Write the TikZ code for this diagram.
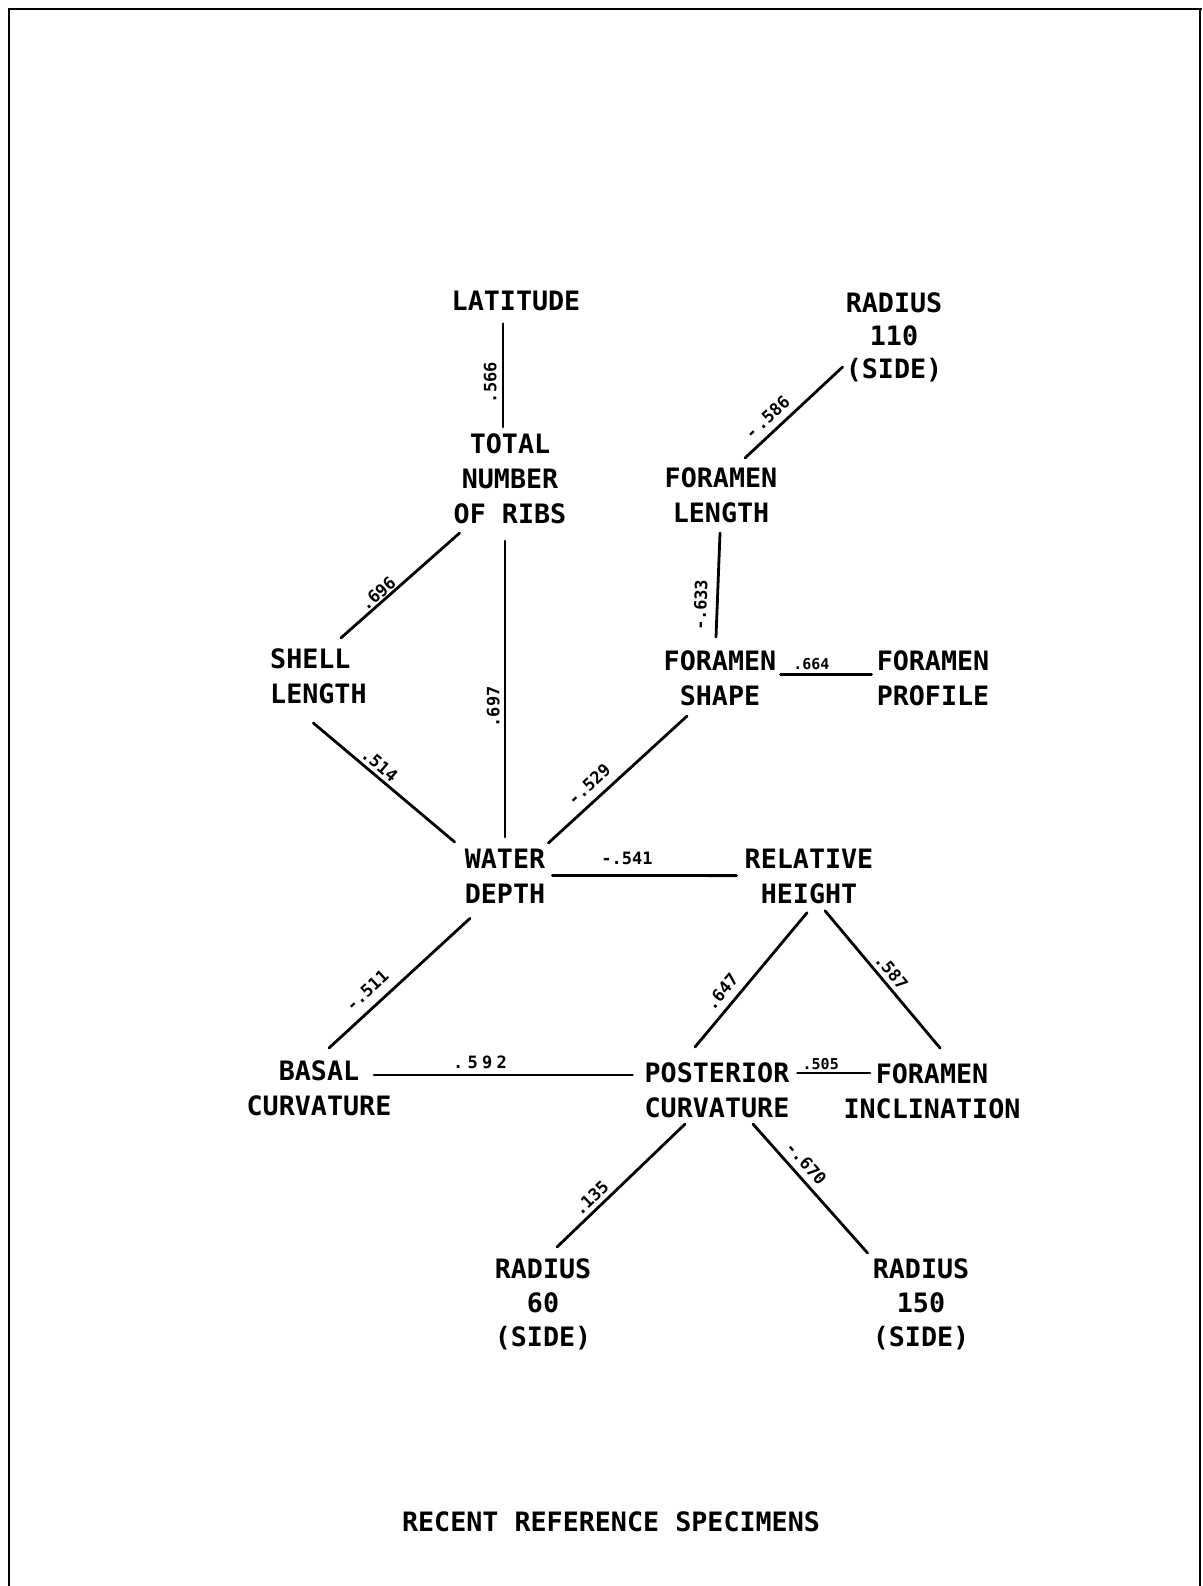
\documentclass[tikz,border=0pt]{standalone}
\usepackage{fontspec}
\setmainfont{DejaVu Sans Mono}
\usetikzlibrary{calc}
\begin{document}
\begin{tikzpicture}[x=1pt,y=-1pt,
  lbl/.style={font=\fontsize{26.7}{35}\selectfont\bfseries, inner sep=0pt, align=center, anchor=north},
  cor/.style={font=\fontsize{17}{17}\selectfont\bfseries, inner sep=0pt, sloped},
  cors/.style={font=\fontsize{15}{15}\selectfont\bfseries, inner sep=0pt, sloped},
  conn/.style={line width=2.8pt, line cap=round},
  frame/.style={line width=2.8pt}]
\useasboundingbox (0,0) rectangle (1202,1586);
\fill[white] (0,0) rectangle (1202,1586);
% frame
\draw[frame] (9,1586) -- (9,9) -- (1202,9);
\draw[frame] (1200,9) -- (1200,1586);
% nodes
\node[lbl] (lat) at (516,290.5) {LATITUDE};
\node[lbl, font=\fontsize{26.7}{33}\selectfont\bfseries] (r110) at (894,292) {RADIUS\\110\\(SIDE)};
\node[lbl] (ribs) at (510,433.5) {TOTAL\\NUMBER\\OF RIBS};
\node[lbl] (flen) at (721,467) {FORAMEN\\LENGTH};
\node[lbl, anchor=north west, align=left] (shell) at (270,648) {SHELL\\LENGTH};
\node[lbl] (fshape) at (720,650) {FORAMEN\\SHAPE};
\node[lbl, align=left] (fprof) at (933,650) {FORAMEN\\PROFILE};
\node[lbl] (water) at (505,849) {WATER\\DEPTH};
\node[lbl] (rel) at (809,849) {RELATIVE\\HEIGHT};
\node[lbl] (basal) at (319,1060) {BASAL\\CURVATURE};
\node[lbl] (post) at (717,1062) {POSTERIOR\\CURVATURE};
\node[lbl] (finc) at (932,1063) {FORAMEN\\INCLINATION};
\node[lbl, font=\fontsize{26.7}{34}\selectfont\bfseries] (r60) at (543,1258) {RADIUS\\60\\(SIDE)};
\node[lbl, font=\fontsize{26.7}{34}\selectfont\bfseries] (r150) at (921,1258) {RADIUS\\150\\(SIDE)};
\node[lbl] (title) at (611,1511) {RECENT REFERENCE SPECIMENS};
% connectors
\draw[conn] ($(ribs.north)+(-7,-6.5)$) -- node[cor,pos=.43,above=5pt] (c1) {.566} ($(lat.south)+(-13,13)$);
\draw[conn] ($(flen.north)+(24,-9)$) -- node[cor,pos=.33,above=7pt] (c2) {-\,.586} ($(r110.north west)+(-3,75)$);
\draw[conn] ($(fshape.north)+(-4,-13)$) -- node[cor,pos=.3,above=9pt] (c3) {-.633} ($(flen.south)+(-1,10.5)$);
\draw[conn] ($(fshape.east)+(4,-3)$) -- node[cors,pos=.34,above=4pt] (c4) {.664} ($(fprof.west)+(-5,-3)$);
\draw[conn] ($(shell.north east)+(-26,-10)$) -- node[cor,pos=.36,above=1pt] (c5) {.696} ($(ribs.south west)+(6,9)$);
\draw[conn] ($(shell.south)+(-5,19.5)$) -- node[cor,pos=.42,above=3pt] (c6) {.514} ($(water.north west)+(-10,-7)$);
\draw[conn] ($(water.north)+(0,-12)$) -- node[cor,pos=.44,above=4pt] (c7) {.697} ($(ribs.south)+(-5,17)$);
\draw[conn] ($(water.north east)+(3,-6)$) -- node[cor,pos=.37,above=8pt] (c8) {-.529} ($(fshape.south)+(-33,10.5)$);
\draw[conn] ($(water.east)+(7,-1)$) -- node[cor,pos=.405,above=9pt] (c9) {-.541} ($(rel.west)+(-8,-1)$);
\draw[conn] ($(basal.north)+(10,-12)$) -- node[cor,pos=.35,above=9pt] (c10) {-.511} ($(water.south)+(-35,14.5)$);
\draw[conn] ($(basal.north)+(55,15)$) -- node[cor,pos=.41,above=5pt] (c11) {\addfontfeature{LetterSpace=25}.592} ($(post.north west)+(-12,13)$);
\draw[conn] ($(post.north)+(-22,-15)$) -- node[cor,pos=.34,above=7pt] (c12) {.647} ($(rel.south)+(-2,8.5)$);
\draw[conn] ($(rel.south)+(16,6.5)$) -- node[cor,pos=.5,above=4pt] (c13) {.587} ($(finc.north)+(8,-15)$);
\draw[conn] ($(post.north east)+(8,11)$) -- node[cors,pos=.32,above=2pt] (c14) {.505} ($(finc.north)+(-62,10)$);
\draw[conn] ($(r60.north)+(14,-11)$) -- node[cor,pos=.33,above=4pt] (c15) {.135} ($(post.south)+(-32,6.5)$);
\draw[conn] ($(post.south)+(36,6.5)$) -- node[cor,pos=.375,above=6pt] (c16) {-.670} ($(r150.north west)+(-5,-5)$);
\end{tikzpicture}
\end{document}
